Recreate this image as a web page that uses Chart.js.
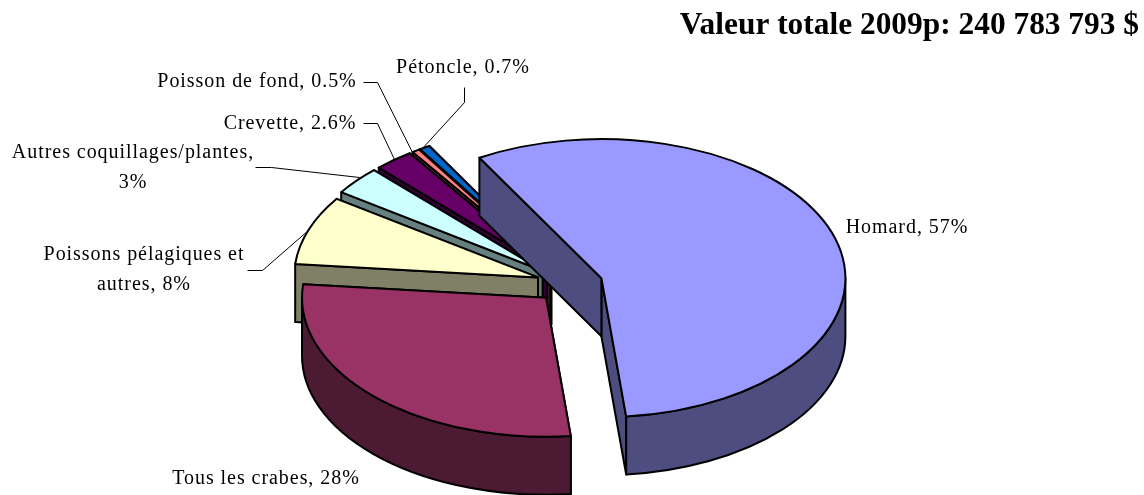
<!DOCTYPE html>
<html lang="fr">
<head>
<meta charset="utf-8">
<style>
html,body{margin:0;padding:0;background:#fff;overflow:hidden}
#wrap{position:relative;width:1144px;height:495px}
</style>
<script src="https://cdn.jsdelivr.net/npm/chart.js@4"></script>
</head>
<body>
<div id="wrap"><canvas id="c" width="1144" height="495"></canvas></div>
<script>
const categories = ["Homard","Tous les crabes","Poissons pélagiques et autres","Autres coquillages/plantes","Crevette","Poisson de fond","Pétoncle"];
const values = [56.6,28.1,8.0,3.3,2.6,0.5,0.7];
const topColors = ["#9999FF","#993366","#FFFFCC","#CCFFFF","#660066","#FF8080","#0066CC"];
const sideColors = ["#4D4D80","#4D1A33","#808066","#668080","#330033","#804040","#003366"];
const titleText = "Valeur totale 2009p: 240 783 793 $";
const labelLines = [["Homard, 57%"],["Tous les crabes, 28%"],["Poissons pélagiques et","autres, 8%"],["Autres coquillages/plantes,","3%"],["Crevette, 2.6%"],["Poisson de fond, 0.5%"],["Pétoncle, 0.7%"]];

// presentation
const explode = [33,34,34,36,36,36,36];
const labelPos = [[907,228],[266,479],[144,255],[133,153],[290,124],[257,82],[463,68]];
const leaders = [null,null,
  [[247,270],[262,270],[309,229]],
  [[255,167],[271,167],[359,177]],
  [[363,123],[377,123],[394,159]],
  [[363,82],[377,82],[412,152]],
  [[464,87],[464,102],[421,149]]];
const PIE = {cx:570,cy:284,r:244,k:0.57,depth:58};
const SERIF = "'Liberation Serif','Times New Roman',serif";

const pie3d = {
  id:'pie3d',
  beforeDatasetsDraw(chart){
    const ctx = chart.ctx, arcs = chart.getDatasetMeta(0).data;
    const {k,depth} = PIE;
    const order = arcs.map((_,i)=>i).reverse().filter(i=>i>1).concat([1,0]);
    ctx.save();
    ctx.lineJoin='round'; ctx.lineCap='round'; ctx.lineWidth=2; ctx.strokeStyle='#000';
    for(const i of order){
      const el=arcs[i], s=el.startAngle, e=el.endAngle, r=el.outerRadius, mid=(s+e)/2;
      const ax=PIE.cx+Math.cos(mid)*explode[i], ay=PIE.cy+Math.sin(mid)*explode[i]*k;
      const px=a=>ax+Math.cos(a)*r, py=a=>ay+Math.sin(a)*r*k;
      ctx.fillStyle=sideColors[i];
      for(const a of [e,s]){
        ctx.beginPath();ctx.moveTo(ax,ay);ctx.lineTo(px(a),py(a));ctx.lineTo(px(a),py(a)+depth);ctx.lineTo(ax,ay+depth);ctx.closePath();ctx.fill();ctx.stroke();
      }
      const a0=Math.max(s,0), a1=Math.min(e,Math.PI);
      if(a0<a1){
        ctx.beginPath();ctx.ellipse(ax,ay,r,r*k,0,a0,a1);ctx.ellipse(ax,ay+depth,r,r*k,0,a1,a0,true);ctx.closePath();ctx.fill();ctx.stroke();
      }
      ctx.save();
      ctx.translate(ax,ay);ctx.scale(1,k);ctx.translate(-el.x,-el.y);
      el.draw(ctx,chart.chartArea);
      ctx.restore();
      ctx.beginPath();ctx.moveTo(ax,ay);ctx.ellipse(ax,ay,r,r*k,0,s,e);ctx.closePath();ctx.stroke();
    }
    ctx.restore();
    return false;
  },
  afterDraw(chart){
    const ctx=chart.ctx;
    ctx.save();
    ctx.strokeStyle='#000';ctx.lineWidth=1;
    leaders.forEach(l=>{ if(!l) return;
      ctx.beginPath();l.forEach((p,j)=>j?ctx.lineTo(p[0]+.5,p[1]+.5):ctx.moveTo(p[0]+.5,p[1]+.5));ctx.stroke();});
    ctx.fillStyle='#000';ctx.font="20px "+SERIF;ctx.textAlign='center';ctx.textBaseline='middle';
    ctx.letterSpacing='0.95px';
    labelLines.forEach((lines,i)=>lines.forEach((t,j)=>ctx.fillText(t,labelPos[i][0],labelPos[i][1]+j*30)));
    ctx.restore();
  }
};

new Chart(document.getElementById('c'),{
  type:'pie',
  data:{labels:categories,datasets:[{data:values,backgroundColor:topColors,borderWidth:0}]},
  options:{
    responsive:false,animation:false,rotation:-30,radius:PIE.r,
    layout:{padding:{right:5,top:0}},
    plugins:{
      legend:{display:false},tooltip:{enabled:false},
      title:{display:true,text:titleText,align:'end',color:'#000',padding:{top:7,bottom:0},
        font:{family:SERIF,size:31.4,weight:'bold'}}
    }
  },
  plugins:[pie3d]
});
</script>
</body>
</html>
